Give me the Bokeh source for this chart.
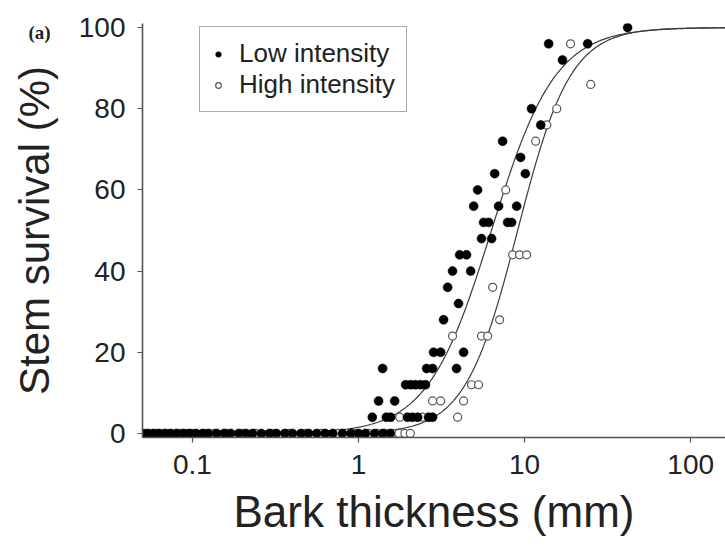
import numpy as np
from bokeh.plotting import figure
from bokeh.models import (Range1d, FixedTicker, Legend, LegendItem, Label,
                          ColumnDataSource)
from bokeh.embed import file_html
from bokeh.resources import INLINE

# ---------------- data ----------------
low_x = [41.7, 13.95, 23.96, 16.9, 11.0, 12.5, 7.37, 9.46, 6.6, 10.1, 5.21,
         4.93, 6.97, 8.95, 5.66, 6.07, 7.9, 8.35, 5.5, 6.33, 4.06, 4.47, 3.68,
         4.73, 3.44, 4.0, 3.25, 2.83, 3.12, 4.29, 1.395, 2.57, 2.79, 3.89,
         1.92, 2.06, 2.2, 2.36, 2.53, 1.32, 1.65, 1.21, 1.47, 1.56, 1.97,
         2.11, 2.27, 2.64, 2.79]
low_y = [100, 96, 96, 92, 80, 76, 72, 68, 64, 64, 60,
         56, 56, 56, 52, 52, 52, 52, 48, 48, 44, 44, 40,
         40, 36, 32, 28, 20, 20, 20, 16, 16, 16, 16,
         12, 12, 12, 12, 12, 8, 8, 4, 4, 4, 4,
         4, 4, 4, 4]
low_zero_x = [0.05, 0.054, 0.058, 0.063, 0.068, 0.074, 0.08, 0.088, 0.096,
              0.105, 0.115, 0.125, 0.14, 0.155, 0.17, 0.19, 0.21, 0.23, 0.26,
              0.29, 0.32, 0.36, 0.4, 0.45, 0.5, 0.56, 0.63, 0.7, 0.8, 0.9,
              1.0, 1.1, 1.25, 1.4, 1.55]

high_x = [18.9, 25.0, 15.6, 13.6, 11.65, 7.69, 8.47, 9.33, 10.28, 6.42, 7.07,
          3.68, 5.5, 5.99, 4.79, 5.28, 2.79, 3.12, 4.29, 3.95, 1.77, 2.43]
high_y = [96, 86, 80, 76, 72, 60, 44, 44, 44, 36, 28,
          24, 24, 24, 12, 12, 8, 8, 8, 4, 4, 4]
high_zero_x = [0.052, 0.061, 0.071, 0.083, 0.092, 0.1, 0.12, 0.135, 0.16,
               0.2, 0.24, 0.3, 0.38, 0.48, 0.6, 0.75, 0.95, 1.15, 1.3, 1.45,
               1.6, 1.75, 1.9, 2.05]

# fitted logistic curves (midpoint in log10 mm, slope)
low_fit = (0.80, 5.2)
high_fit = (0.958, 6.3)

x_ticks = [0.1, 1, 10, 100]
x_tick_labels = ["0.1", "1", "10", "100"]
y_ticks = [0, 20, 40, 60, 80, 100]

series_labels = ["Low intensity", "High intensity"]
x_title = "Bark thickness (mm)"
y_title = "Stem survival (%)"
panel_tag = "(a)"

FONT = "Liberation Sans"

# ---------------- figure ----------------
p = figure(width=725, height=547, x_axis_type="log",
           x_range=Range1d(0.05, 162), y_range=Range1d(-1, 101),
           output_backend="svg", toolbar_location=None,
           min_border_left=142, min_border_right=0,
           min_border_top=23, min_border_bottom=110)
p.outline_line_color = None
p.grid.visible = False
p.background_fill_color = "white"
p.border_fill_color = "white"

# curves
xs = np.logspace(np.log10(0.05), np.log10(162), 400)
for mid, slope in (low_fit, high_fit):
    ys = 100.0 / (1.0 + np.exp(-slope * (np.log10(xs) - mid)))
    p.line(xs, ys, line_color="#3a3a3a", line_width=1.2)

high_src = ColumnDataSource(dict(x=high_x + high_zero_x,
                                 y=high_y + [0] * len(high_zero_x)))
low_src = ColumnDataSource(dict(x=low_x + low_zero_x,
                                y=low_y + [0] * len(low_zero_x)))

r_high = p.scatter("x", "y", source=high_src, size=8, fill_color="white",
                   line_color="#555555", line_width=1.2)
r_low = p.scatter("x", "y", source=low_src, size=9, fill_color="black",
                  line_color="black", line_width=0.5)

# axes
for ax in (p.xaxis[0], p.yaxis[0]):
    ax.axis_line_color = "#555555"
    ax.axis_line_width = 1.6
    ax.major_tick_line_color = "#555555"
    ax.major_tick_line_width = 1.2
    ax.major_tick_out = 5
    ax.major_tick_in = 0
    ax.minor_tick_line_color = None
    ax.major_label_text_font = FONT
    ax.major_label_text_font_size = "28px"
    ax.major_label_text_color = "#222222"
    ax.axis_label_text_font = FONT
    ax.axis_label_text_font_style = "normal"
    ax.axis_label_text_color = "#222222"

p.xaxis.ticker = FixedTicker(ticks=x_ticks)
p.xaxis.major_label_overrides = {t: lab for t, lab in zip(x_ticks, x_tick_labels)}
p.xaxis.major_label_standoff = 12
p.xaxis.axis_label = x_title
p.xaxis.axis_label_text_font_size = "44px"
p.xaxis.axis_label_standoff = 10

p.yaxis.ticker = FixedTicker(ticks=y_ticks)
p.yaxis.major_label_standoff = 12
p.yaxis.axis_label = y_title
p.yaxis.axis_label_text_font_size = "42px"
p.yaxis.axis_label_standoff = 18

# legend
legend = Legend(items=[LegendItem(label=series_labels[0], renderers=[r_low]),
                       LegendItem(label=series_labels[1], renderers=[r_high])],
                location=(57, 325), orientation="vertical")
legend.border_line_color = "#555555"
legend.border_line_width = 1.5
legend.background_fill_color = "white"
legend.background_fill_alpha = 1.0
legend.padding = 11
legend.spacing = 0
legend.margin = 0
legend.glyph_width = 14
legend.glyph_height = 14
legend.label_standoff = 14
legend.label_text_font = FONT
legend.label_text_font_size = "26px"
legend.label_text_color = "#222222"
p.add_layout(legend)

# panel tag "(a)" left of the y axis, placed in the top side panel
# (side panels are not clipped to the data frame)
tag = Label(x=-103, y=-9, x_units="screen", y_units="screen", text=panel_tag,
            text_font="Liberation Serif", text_font_style="bold",
            text_font_size="19px", text_line_height=1.0,
            text_color="#222222",
            text_align="center", text_baseline="middle")
p.add_layout(tag, "above")

open("out.html", "w").write(file_html(p, INLINE))
